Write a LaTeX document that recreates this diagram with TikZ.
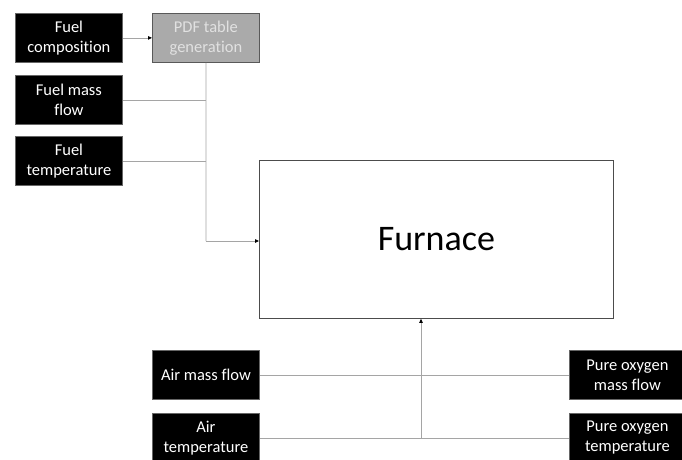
\documentclass[tikz,border=0pt]{standalone}
\usepackage{fontspec}
\setmainfont{Carlito}[RawFeature=-liga]
\usetikzlibrary{arrows.meta}
\definecolor{linegray}{RGB}{165,165,165}
\definecolor{pdffill}{RGB}{170,170,170}
\definecolor{pdftext}{RGB}{225,225,225}
\tikzset{
  inbox/.style={draw=black!60, line width=0.8pt, fill=black, text=white, minimum width=107pt, minimum height=49pt, inner sep=0pt, align=center, font=\fontsize{16.5}{20}\selectfont, anchor=north west},
  pdfbox/.style={inbox, fill=pdffill, draw=black!65, text=pdftext},
  conn/.style={draw=linegray, line width=0.8pt},
  tip/.style={-{Triangle[length=4pt,width=3.5pt,black]}}
}
\begin{document}
\begin{tikzpicture}[x=1pt,y=-1pt]
\useasboundingbox (0,0) rectangle (682,459);
\begin{scope}
\clip (0,0) rectangle (682,459);
\node[inbox] (fc) at (15,13) {Fuel\\composition};
\node[pdfbox] (pdf) at (152,13) {PDF table\\generation};
\node[inbox] (fm) at (15,75) {Fuel mass\\flow};
\node[inbox] (ft) at (15,136) {Fuel\\temperature};
\node[draw=black!70, line width=0.8pt, minimum width=354pt, minimum height=158pt, anchor=north west, font=\fontsize{36}{42}\selectfont] (furn) at (259,160) {Furnace};
\node[inbox] (am) at (152,350) {Air mass flow};
\node[inbox] (at) at (152,413) {Air\\temperature};
\node[inbox, minimum width=116pt] (om) at (569,350) {Pure oxygen\\mass flow};
\node[inbox, minimum width=116pt] (ot) at (569,413) {Pure oxygen\\temperature};
\end{scope}
\coordinate (jv) at (206,241);
\coordinate (jb) at (421,438);
\draw[conn, tip] (fc.east) -- (pdf.west);
\draw[conn] (pdf.south) -- (jv);
\draw[conn, tip] (jv) -- (furn.west |- jv);
\draw[conn] (fm.east) -- (fm.east -| jv);
\draw[conn] (ft.east) -- (ft.east -| jv);
\draw[conn] (am.east) -- (om.west |- am.east);
\draw[conn] (at.east |- jb) -- (om.west |- jb);
\draw[conn, tip] (jb) -- (jb |- furn.south);
\end{tikzpicture}
\end{document}
